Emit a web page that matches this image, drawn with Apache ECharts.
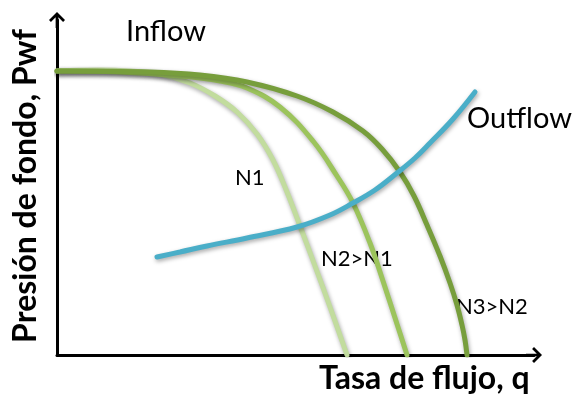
<!DOCTYPE html>
<html>
<head>
<meta charset="utf-8">
<script src="https://cdn.jsdelivr.net/npm/echarts@6/dist/echarts.min.js"></script>
<style>html,body{margin:0;padding:0;background:#fff}#c{width:587px;height:404px}</style>
</head>
<body>
<div id="c"></div>
<script>
// Values (x: flow rate, y: bottom-hole pressure; arbitrary units)
var inflowN1 = [[0,284],[43,285],[73,284],[103,281],[133,272],[158,259],[180,243],[200,221],[216,195],[230,163],[243,129],[258,89],[273,48],[290,0]];
var inflowN2 = [[0,284],[63,283],[123,279],[163,274],[190,267],[223,248],[256,214],[280,179],[296,152],[313,112],[326,74],[340,31],[350,0]];
var inflowN3 = [[0,284],[93,283],[143,280],[190,273],[240,259],[276,243],[306,224],[325,206],[343,183],[357,159],[370,130],[383,99],[393,72],[400,50],[405,30],[408,15],[410,0]];
var outflow = [[100,98],[123,103],[150,109],[190,117],[240,128],[273,140],[296,152],[318,165],[340,182],[358,197],[373,212],[396,236],[418,263]];
var seriesNames = ['N1', 'N2>N1', 'N3>N2', 'Outflow'];
var xTitle = 'Tasa de flujo, q';
var yTitle = 'Presión de fondo, Pwf';

var chart = echarts.init(document.getElementById('c'), null, {renderer: 'canvas'});
var arrow = 'path://M10,0 L20,10 L17.6,12.4 L11.7,6.5 L11.7,20 L8.3,20 L8.3,6.5 L2.4,12.4 L0,10 Z';
var font = 'Lato, "Open Sans", sans-serif';
function line(name, data, color) {
  return {
    name: name, type: 'line', data: data, smooth: 0.4,
    showSymbol: false, symbol: 'none', silent: true,
    lineStyle: {color: color, width: 5, cap: 'round',
      shadowColor: 'rgba(0,0,0,0.35)', shadowBlur: 4, shadowOffsetX: 1, shadowOffsetY: 2}
  };
}
chart.setOption({
  animation: false,
  backgroundColor: '#fff',
  grid: {left: 57, right: 53, top: 20, bottom: 49},
  xAxis: {type: 'value', min: 0, max: 477,
    axisLine: {show: true, onZero: false, lineStyle: {color: '#000', width: 3}, symbol: ['none', arrow], symbolSize: [16, 16]},
    axisTick: {show: false}, axisLabel: {show: false}, splitLine: {show: false}},
  yAxis: {type: 'value', min: 0, max: 335,
    axisLine: {show: true, onZero: false, lineStyle: {color: '#000', width: 3}, symbol: ['none', arrow], symbolSize: [16, 16]},
    axisTick: {show: false}, axisLabel: {show: false}, splitLine: {show: false}},
  series: [
    line(seriesNames[0], inflowN1, '#c2dc9e'),
    line(seriesNames[1], inflowN2, '#9cc45c'),
    line(seriesNames[2], inflowN3, '#779e3c'),
    line(seriesNames[3], outflow, '#4aaec8')
  ],
  graphic: [
    {type: 'text', left: 126, top: 17, style: {text: 'Inflow', font: '29px ' + font, fill: '#000'}},
    {type: 'text', left: 467, top: 104, style: {text: 'Outflow', font: '29px ' + font, fill: '#000'}},
    {type: 'text', left: 235, top: 167, style: {text: seriesNames[0], font: '22px ' + font, fill: '#000'}},
    {type: 'text', left: 321, top: 248, style: {text: seriesNames[1], font: '22px ' + font, fill: '#000'}},
    {type: 'text', left: 456, top: 296, style: {text: seriesNames[2], font: '22px ' + font, fill: '#000'}},
    {type: 'text', left: 319, top: 363, style: {text: xTitle, font: 'bold 32px ' + font, fill: '#000'}},
    {type: 'text', x: 26, y: 186, rotation: Math.PI / 2,
      style: {text: yTitle, font: 'bold 32px ' + font, fill: '#000', align: 'center', verticalAlign: 'middle'}}
  ]
});
</script>
</body>
</html>
